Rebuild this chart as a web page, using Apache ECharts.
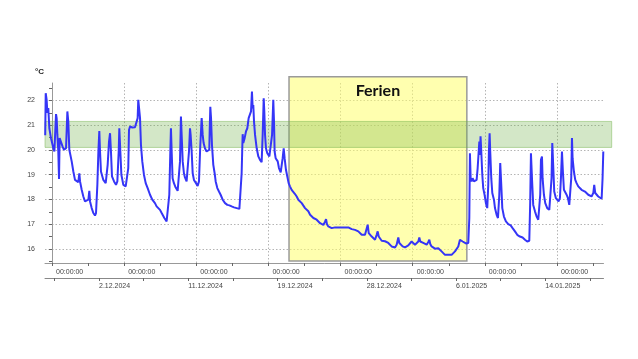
<!DOCTYPE html>
<html><head><meta charset="utf-8">
<script src="https://cdn.jsdelivr.net/npm/echarts@6/dist/echarts.min.js"></script>
<style>html,body{margin:0;padding:0;background:#fff}#c{width:638px;height:359px}</style>
</head><body><div id="c"></div>
<script>
// time in days after the first weekly "00:00:00" grid line
const times = [
 -0.66,-0.61,-0.52,-0.45,-0.36,-0.26,-0.1,0.13,0.23,0.32,
 0.39,0.45,0.52,0.61,0.68,0.74,0.87,1.03,1.16,1.26,
 1.36,1.49,1.58,1.68,1.81,1.91,2.07,2.23,2.39,2.55,
 2.65,2.72,2.88,3.04,3.2,3.36,3.53,3.62,3.69,3.85,
 4.01,4.17,4.27,4.4,4.5,4.59,4.66,4.75,4.98,5.21,
 5.3,5.4,5.53,5.63,5.72,5.82,6.02,6.21,6.34,6.47,
 6.53,6.63,6.73,6.92,7.15,7.34,7.4,7.47,7.57,7.66,
 7.79,8.05,8.21,8.31,8.37,8.47,8.54,8.63,8.76,8.92,
 9.09,9.28,9.51,9.73,9.99,10.15,10.31,10.48,10.64,10.9,
 11.12,11.28,11.38,11.48,11.54,11.61,11.7,11.83,12.0,12.19,
 12.32,12.42,12.51,12.58,12.68,12.8,12.9,13.06,13.16,13.29,
 13.39,13.45,13.55,13.65,13.77,13.97,14.13,14.26,14.39,14.52,
 14.62,14.71,14.84,15.0,15.17,15.26,15.3,15.36,15.43,15.52,
 15.65,15.78,15.88,16.04,16.2,16.36,16.56,16.79,17.01,17.21,
 17.43,17.66,17.92,18.18,18.31,18.4,18.47,18.5,18.56,18.69,
 18.82,18.95,19.08,19.21,19.31,19.4,19.47,19.53,19.6,19.7,
 19.86,20.02,20.18,20.34,20.44,20.54,20.6,20.67,20.76,20.89,
 21.09,21.25,21.35,21.47,21.54,21.6,21.7,21.8,21.9,22.02,
 22.19,22.28,22.38,22.48,22.57,22.7,22.83,22.96,23.09,23.25,
 23.42,23.58,23.74,23.9,24.07,24.23,24.39,24.55,24.71,24.87,
 25.04,25.2,25.36,25.52,25.68,25.84,26.01,26.17,26.33,26.49,
 26.59,26.68,26.81,26.98,27.14,27.3,27.46,27.62,27.78,27.95,
 28.11,28.27,28.43,28.59,28.75,28.92,29.08,29.24,29.4,29.56,
 29.72,29.89,30.05,30.21,30.37,30.53,30.63,30.73,30.86,31.02,
 31.18,31.34,31.5,31.6,31.7,31.83,31.99,32.15,32.31,32.47,
 32.63,32.79,32.95,33.11,33.28,33.44,33.6,33.7,33.83,34.02,
 34.25,34.41,34.57,34.73,34.89,35.05,35.22,35.38,35.54,35.64,
 35.73,35.86,36.02,36.19,36.35,36.51,36.61,36.7,36.83,36.99,
 37.16,37.32,37.48,37.64,37.8,37.96,38.13,38.29,38.45,38.61,
 38.77,38.94,39.1,39.26,39.42,39.58,39.68,39.84,39.97,40.16,
 40.39,40.49,40.55,40.62,40.71,40.81,40.94,41.07,41.2,41.3,
 41.46,41.52,41.58,41.65,41.75,41.84,41.97,42.1,42.23,42.33,
 42.39,42.46,42.52,42.62,42.72,42.81,42.88,42.98,43.14,43.27,
 43.4,43.49,43.59,43.69,43.85,44.04,44.27,44.5,44.69,44.92,
 45.14,45.4,45.66,45.89,46.11,46.31,46.4,46.47,46.57,46.69,
 46.86,47.02,47.18,47.28,47.37,47.44,47.54,47.6,47.73,47.86,
 48.05,48.25,48.38,48.47,48.54,48.64,48.73,48.89,49.02,49.15,
 49.28,49.38,49.48,49.57,49.67,49.8,49.93,50.06,50.19,50.28,
 50.38,50.45,50.51,50.64,50.77,50.9,51.06,51.22,51.38,51.55,
 51.71,51.87,52.03,52.19,52.35,52.52,52.61,52.71,52.84,53.0,
 53.16,53.33,53.42,53.49
];
const temps = [
 20.6,22.3,22.03,21.5,21.7,20.88,20.48,20.07,19.94,20.0,
 21.45,21.29,20.61,19.94,18.83,20.48,20.41,20.14,20.01,19.94,
 20.07,21.56,21.15,20.01,19.94,19.54,19.13,18.79,18.73,18.7,
 19.06,18.73,18.39,18.12,17.92,17.85,17.99,18.35,17.92,17.65,
 17.45,17.35,17.45,18.59,19.94,20.77,19.94,19.13,18.79,18.66,
 18.73,19.4,20.34,20.68,19.94,18.93,18.73,18.59,18.73,19.94,
 20.88,19.94,19.0,18.59,18.53,18.53,19.27,20.81,20.95,20.88,
 20.91,20.92,20.91,21.29,22.03,21.96,21.29,20.21,19.54,19.0,
 18.66,18.46,18.19,17.99,17.85,17.72,17.65,17.58,17.45,17.25,
 17.11,17.04,18.19,19.94,20.88,19.94,18.86,18.66,18.48,18.35,
 18.39,19.54,21.35,20.61,19.54,19.06,18.89,18.73,18.79,19.94,
 20.88,20.61,19.94,19.06,18.79,18.66,18.55,18.73,20.21,21.29,
 20.61,20.28,20.07,19.94,19.87,20.01,20.8,21.75,21.29,20.21,
 19.4,19.06,18.73,18.46,18.32,18.19,17.99,17.85,17.78,17.76,
 17.72,17.68,17.65,17.62,17.68,19.06,20.21,20.64,20.28,20.48,
 20.75,20.88,21.29,21.35,21.56,22.36,21.69,21.82,21.15,20.61,
 20.07,19.74,19.6,19.51,20.61,22.09,21.56,20.61,20.07,19.87,
 19.74,19.67,20.61,22.03,21.15,19.94,19.67,19.74,19.54,19.27,
 19.1,19.06,19.67,20.07,19.67,19.2,18.93,18.66,18.53,18.39,
 18.32,18.22,18.12,17.99,17.92,17.85,17.75,17.65,17.6,17.52,
 17.38,17.31,17.25,17.22,17.18,17.11,17.04,17.0,16.97,17.1,
 17.2,17.0,16.91,16.87,16.84,16.91,16.87,16.81,16.87,16.91,
 16.87,16.84,16.87,16.88,16.87,16.81,16.8,16.81,16.77,16.73,
 16.71,16.64,16.57,16.55,16.57,16.6,16.98,16.64,16.57,16.5,
 16.44,16.37,16.57,16.71,16.5,16.44,16.33,16.3,16.31,16.3,
 16.24,16.17,16.1,16.07,16.06,16.17,16.46,16.24,16.17,16.1,
 16.06,16.1,16.14,16.17,16.3,16.24,16.17,16.24,16.3,16.46,
 16.3,16.28,16.24,16.2,16.17,16.28,16.37,16.2,16.1,16.03,
 16.01,15.97,16.03,15.97,15.9,15.83,15.76,15.74,15.76,15.7,
 15.76,15.83,15.9,15.97,16.1,16.37,16.4,16.3,16.24,16.22,
 16.24,17.25,19.87,18.86,18.73,18.86,18.73,18.66,18.79,19.27,
 20.34,19.8,20.55,19.94,19.0,18.46,18.19,17.85,17.65,18.59,
 19.94,20.68,19.94,18.86,18.26,18.19,17.99,17.65,17.38,17.25,
 18.19,19.47,18.59,17.65,17.31,17.11,17.0,16.95,16.84,16.71,
 16.57,16.5,16.46,16.37,16.3,16.33,17.92,19.87,18.86,17.78,
 17.52,17.31,17.18,17.11,18.19,19.6,19.74,18.86,18.19,17.85,
 17.65,17.58,17.65,18.86,20.28,19.27,18.32,18.05,17.99,17.92,
 18.05,18.86,19.94,19.13,18.39,18.32,18.19,18.05,17.78,17.72,
 18.86,20.48,19.67,19.13,18.79,18.66,18.53,18.46,18.39,18.35,
 18.32,18.26,18.19,18.16,18.12,18.26,18.59,18.26,18.19,18.12,
 18.05,18.03,18.86,19.94
];
const yTickValues = [15.5,16,16.5,17,17.5,18,18.5,19,19.5,20,20.5,21,21.5,22,22.5];
const yLabelValues = [16,17,18,19,20,21,22];
const weekLines = [0,7,14,21,28,35,42,49];
const halfWeekTicks = [0,3.5,7,10.5,14,17.5,21,24.5,28,31.5,35,38.5,42,45.5,49,52.5];
const timeLabel = '00:00:00';
const dateLabels = ['2.12.2024','11.12.2024','19.12.2024','28.12.2024','6.01.2025','14.01.2025'];
const datePositions = [4.56,13.22,21.88,30.54,39.2,47.86];
const dateTicks = [0.23,4.56,8.89,13.22,17.55,21.88,26.21,30.54,34.87,39.2,43.53,47.86,52.19];
const comfortBand = [20.1, 21.15];
const holidayRange = [22.99, 40.24];
const holidayBottom = 15.515;
const holidayLabel = 'Ferien';
const unitLabel = '°C';

const X_MIN = -0.68, X_MAX = 53.51, X_MAX_BAND = 54.29;
const Y_MIN = 15.43, Y_MAX = 22.71, Y_MAX_BAND = 22.957;
const lineData = times.map((t, i) => [t, temps[i]]);
const labelFont = { fontSize: 7, fontFamily: 'Liberation Sans Narrow, Liberation Sans, Arial', color: '#444' };

const chart = echarts.init(document.getElementById('c'), null, { renderer: 'canvas' });
chart.setOption({
  animation: false,
  backgroundColor: '#fff',
  grid: [
    { left: 45, right: 34.5, top: 83, bottom: 96 },
    { left: 45, right: 26.3, top: 76.7, bottom: 96 }
  ],
  xAxis: [
    { gridIndex: 0, type: 'value', min: X_MIN, max: X_MAX, position: 'bottom',
      axisLine: { show: true, onZero: false, lineStyle: { color: '#999', width: 1 } },
      axisTick: { show: true, customValues: halfWeekTicks, length: 3, lineStyle: { color: '#666' } },
      axisLabel: Object.assign({ customValues: weekLines, formatter: () => timeLabel, align: 'left', padding: [0, 0, 0, 4], margin: 6 }, labelFont),
      splitLine: { show: false } },
    { gridIndex: 0, type: 'value', min: X_MIN, max: X_MAX, position: 'bottom', offset: 15,
      axisLine: { show: true, onZero: false, lineStyle: { color: '#888', width: 1 } },
      axisTick: { show: true, customValues: dateTicks, length: 3, lineStyle: { color: '#666' } },
      axisLabel: Object.assign({ customValues: datePositions, align: 'left', margin: 5,
        formatter: v => { const i = datePositions.findIndex(p => Math.abs(p - v) < 0.01); return i >= 0 ? dateLabels[i] : ''; } }, labelFont),
      splitLine: { show: false } },
    { gridIndex: 0, type: 'value', min: X_MIN, max: X_MAX, position: 'top',
      axisLine: { show: false }, axisTick: { show: false, customValues: weekLines }, axisLabel: { show: false },
      splitLine: { show: true, lineStyle: { color: '#b4b4b4', width: 1, type: [1.5, 2] } } },
    { gridIndex: 1, type: 'value', min: X_MIN, max: X_MAX_BAND, show: false }
  ],
  yAxis: [
    { gridIndex: 0, type: 'value', min: Y_MIN, max: Y_MAX, position: 'left',
      name: unitLabel, nameLocation: 'end', nameGap: 7,
      nameTextStyle: { fontSize: 8, fontWeight: 'bold', color: '#222', fontFamily: 'Liberation Sans, Arial', align: 'right', padding: [0, 8, 0, 0] },
      axisLine: { show: true, lineStyle: { color: '#999', width: 1 } },
      axisTick: { show: true, customValues: yTickValues, length: 3, lineStyle: { color: '#666' } },
      axisLabel: Object.assign({ customValues: yLabelValues, margin: 10 }, labelFont),
      splitLine: { show: false } },
    { gridIndex: 0, type: 'value', min: Y_MIN, max: Y_MAX, position: 'right',
      axisLine: { show: false }, axisTick: { show: false, customValues: yLabelValues }, axisLabel: { show: false },
      splitLine: { show: true, lineStyle: { color: '#b4b4b4', width: 1, type: [1.5, 2] } } },
    { gridIndex: 1, type: 'value', min: Y_MIN, max: Y_MAX_BAND, show: false }
  ],
  series: [
    { type: 'line', xAxisIndex: 3, yAxisIndex: 2, data: [], z: 1, silent: true,
      markArea: { silent: true, data: [
        [ { xAxis: holidayRange[0], yAxis: holidayBottom,
            itemStyle: { color: 'rgba(255,255,110,0.55)', borderColor: '#9a9a9a', borderWidth: 1.5 },
            label: { show: true, position: 'insideTop', distance: 7, formatter: holidayLabel,
                     fontSize: 16, fontWeight: 'bold', color: '#111', fontFamily: 'Lato, Open Sans, sans-serif' } },
          { xAxis: holidayRange[1], yAxis: 'max' } ],
        [ { yAxis: comfortBand[0], itemStyle: { color: 'rgba(110,175,70,0.3)', borderColor: 'rgba(110,175,70,0.45)', borderWidth: 1 } },
          { yAxis: comfortBand[1] } ]
      ] } },
    { type: 'line', xAxisIndex: 0, yAxisIndex: 0, data: lineData, z: 3,
      showSymbol: false, symbol: 'none',
      lineStyle: { color: '#3535f7', width: 2 } }
  ]
});
</script>
</body></html>
